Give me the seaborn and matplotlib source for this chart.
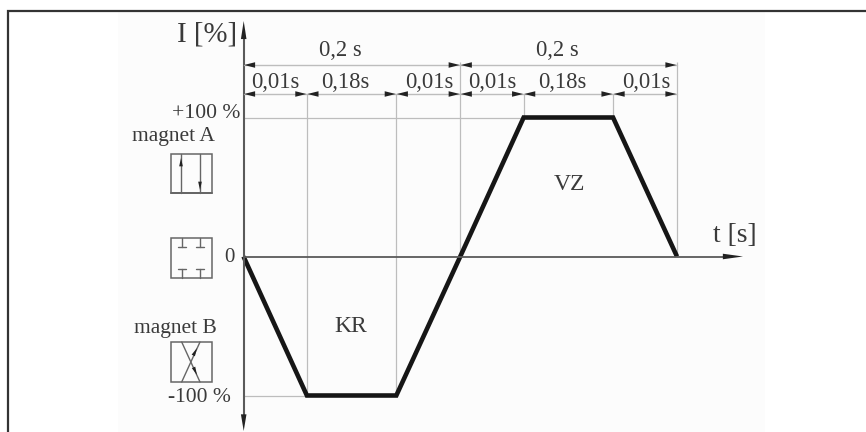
import matplotlib
matplotlib.use('Agg')
import matplotlib.pyplot as plt
from matplotlib.patches import Rectangle
import seaborn as sns
import pandas as pd

# schematic time positions (not to the scale of the labels)
t_knots = [0, 0.0585, 0.141, 0.2, 0.2585, 0.341, 0.4]
current = [0, -100, -100, 0, 100, 100, 0]
span_labels = ['0,2 s', '0,2 s']
span_x = [340, 557]
step_labels = ['0,01s', '0,18s', '0,01s', '0,01s', '0,18s', '0,01s']
step_x = [275, 345, 429, 492, 562, 646]

TEXT = '#3a3a3a'
GUIDE = '#bdbdbd'
AXIS = '#5a5a5a'
PX_X = 1083.75
PX_Y = 1.39
X0, Y0 = 243.5, 256.5

sns.set_theme(style='white')
plt.rcParams['font.family'] = ['Liberation Serif', 'DejaVu Serif']

fig = plt.figure(figsize=(8.66, 4.32), dpi=100, facecolor='white')
ax = fig.add_axes([0, 0, 1, 1])
ax.set_xlim((0 - X0) / PX_X, (866 - X0) / PX_X)
ax.set_ylim((Y0 - 432) / PX_Y, Y0 / PX_Y)
ax.axis('off')

# faint scan background behind the drawing
ax.add_patch(Rectangle(((118 - X0) / PX_X, (Y0 - 432) / PX_Y), 647 / PX_X, 420 / PX_Y,
                       fc='#fcfcfc', ec='none', zorder=0))

df = pd.DataFrame({'t': t_knots, 'I': current})

# extension lines
top_short = (Y0 - 94) / PX_Y
top_long = (Y0 - 62) / PX_Y
ax.vlines(t_knots[1:3], -100, top_short, color=GUIDE, lw=0.9, zorder=2)
ax.vlines(t_knots[3], 0, top_long, color=GUIDE, lw=0.9, zorder=2)
ax.vlines(t_knots[4:6], 100, top_short, color=GUIDE, lw=0.9, zorder=2)
ax.vlines(t_knots[6], 0, top_long, color=GUIDE, lw=0.9, zorder=2)
ax.hlines(100, 0, t_knots[4], color=GUIDE, lw=0.9, zorder=2)
ax.hlines(-100, 0, t_knots[1], color=GUIDE, lw=0.9, zorder=2)

sns.lineplot(data=df, x='t', y='I', sort=False, color='#161616', lw=3.3, ax=ax,
             zorder=5, solid_joinstyle='miter', solid_capstyle='butt', legend=False)

# overlay in pixel coordinates for frame, dimension arrows and symbols
ov = fig.add_axes([0, 0, 1, 1], zorder=3)
ov.set_xlim(0, 866)
ov.set_ylim(432, 0)
ov.axis('off')

ov.plot([7.5, 7.5, 866], [432, 10.7, 10.7], color='#333333', lw=1.6, solid_joinstyle='miter')


def arrow(x1, y1, x2, y2, w=0.25, l=1.0, ms=8):
    ov.annotate('', xy=(x2, y2), xytext=(x1, y1),
                arrowprops=dict(arrowstyle='-|>,head_length=%g,head_width=%g' % (l, w),
                                color='#222222', lw=0, shrinkA=0, shrinkB=0, mutation_scale=ms))


# axes
ov.plot([243.7, 243.7], [30, 420], color=AXIS, lw=1.5)
ov.plot([243.7, 725], [256.5, 256.5], color=AXIS, lw=1.3)
arrow(243.7, 42, 243.7, 21, w=0.2, l=1.3, ms=10)
arrow(243.7, 414, 243.7, 431, w=0.2, l=1.2, ms=10)
arrow(722, 256.5, 743, 256.5, w=0.2, l=1.45, ms=10)

# dimension lines
px = [X0 + t * PX_X for t in t_knots]
ov.plot([px[0], px[6]], [65, 65], color=GUIDE, lw=1.0)
ov.plot([px[0], px[6]], [94, 94], color=GUIDE, lw=1.0)
for a, b in [(px[0], px[3]), (px[3], px[6])]:
    arrow(a + 12, 65, a + 0.5, 65)
    arrow(b - 12, 65, b - 0.5, 65)
for a, b in zip(px[:-1], px[1:]):
    arrow(a + 12, 94, a + 0.5, 94)
    arrow(b - 12, 94, b - 0.5, 94)


def label(x, y, s, size=15.5):
    ov.text(x, y + 1, s, ha='center', va='center', fontsize=size, color=TEXT)


for x, s in zip(span_x, span_labels):
    label(x, 49, s, 16.3)
for x, s in zip(step_x, step_labels):
    label(x, 82, s, 16.3)
label(207, 34, 'I [%]', 20.7)
label(206, 113, '+100 %', 15.6)
label(173, 135, 'magnet A', 15.5)
label(229, 256, '0', 15)
label(175, 327, 'magnet B', 15.5)
label(199, 396, '-100 %', 15.5)
label(351, 325, 'KR', 17)
label(569, 184, 'VZ', 17)
label(735, 235, 't [s]', 20)

# magnet symbols
BOX = '#666666'
for y1, y2 in [(154, 193), (238, 278), (342, 382)]:
    ov.add_patch(Rectangle((171, y1), 41, y2 - y1, fill=False, ec=BOX, lw=1.1))
ov.plot([171, 212], [192.5, 192.5], color=BOX, lw=1.4)

ov.plot([181, 181], [154, 193], color=BOX, lw=1.0)
ov.plot([200, 200], [154, 193], color=BOX, lw=1.0)
arrow(181, 170, 181, 158, w=0.22, l=1.0, ms=6)
arrow(200, 178, 200, 190, w=0.22, l=1.0, ms=6)

for x in [182, 200]:
    ov.plot([x, x], [238, 247], color=BOX, lw=1.0)
    ov.plot([x - 4, x + 4], [247, 247], color=BOX, lw=1.0)
    ov.plot([x, x], [269, 278], color=BOX, lw=1.0)
    ov.plot([x - 4, x + 4], [269, 269], color=BOX, lw=1.0)

ov.plot([181.7, 200], [342, 382], color=BOX, lw=1.0)
ov.plot([200, 181.7], [342, 382], color=BOX, lw=1.0)
arrow(192, 358, 197, 348, w=0.22, l=1.0, ms=6)
arrow(192, 364, 197, 375, w=0.22, l=1.0, ms=6)

fig.savefig('out.png', dpi=100, facecolor='white')
